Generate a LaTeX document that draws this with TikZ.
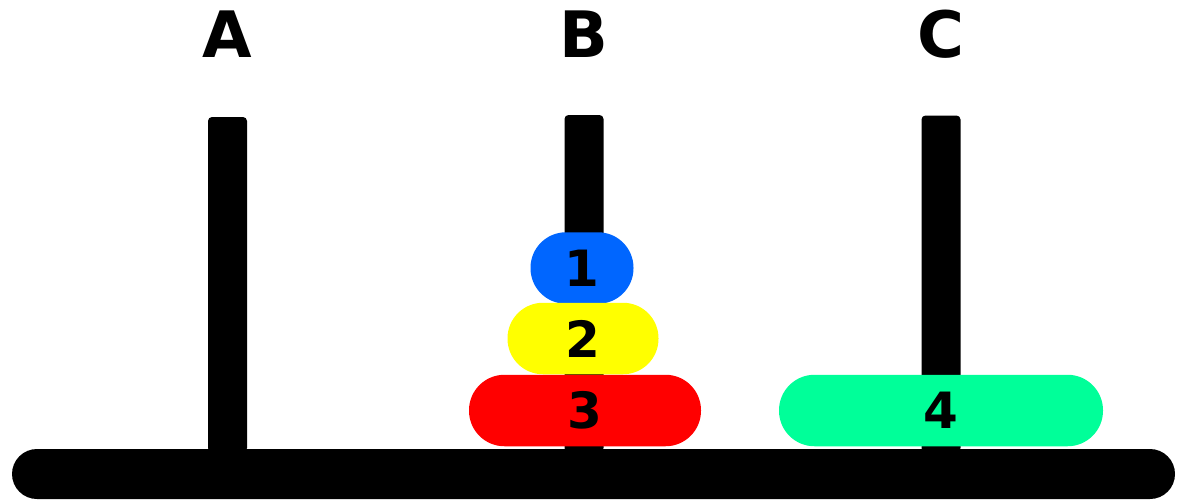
\documentclass[tikz,border=0pt]{standalone}
\usepackage{fontspec}
\setmainfont{DejaVu Sans}
\definecolor{diskblue}{RGB}{0,102,255}
\definecolor{diskyellow}{RGB}{255,255,0}
\definecolor{diskred}{RGB}{255,0,0}
\definecolor{diskgreen}{RGB}{0,255,153}
\begin{document}
\begin{tikzpicture}[x=1pt,y=-1pt,
  peg/.style={fill=black, rounded corners=4pt},
  disk/.style={rectangle, rounded corners=35.5pt, minimum height=71.5pt, inner sep=0pt,
    font=\fontsize{50}{50}\selectfont\bfseries, text=black},
  lbl/.style={anchor=base, inner sep=0pt, font=\fontsize{64}{64}\selectfont\bfseries}]
\useasboundingbox (0,0) rectangle (1180,499);
% base
\fill[rounded corners=25pt] (12,449) rectangle (1175,499);
% pegs
\fill[peg] (208,117) rectangle (247,452);
\fill[peg] (564.5,115) rectangle (603.5,452);
\fill[peg] (921.5,115.5) rectangle (960.5,452);
% peg labels
\node[lbl] (la) at (227.5,57) {A};
\node[lbl] (lb) at (584,57) {B};
\node[lbl] (lc) at (941,57) {C};
% disks
\node[disk, fill=diskblue, minimum width=103pt] (d1) at (582,268) {1};
\node[disk, fill=diskyellow, minimum width=151pt] (d2) at (583,338.5) {2};
\node[disk, fill=diskred, minimum width=232pt] (d3) at (585,410.5) {3};
\node[disk, fill=diskgreen, minimum width=324pt] (d4) at (941,410.5) {4};
\end{tikzpicture}
\end{document}
